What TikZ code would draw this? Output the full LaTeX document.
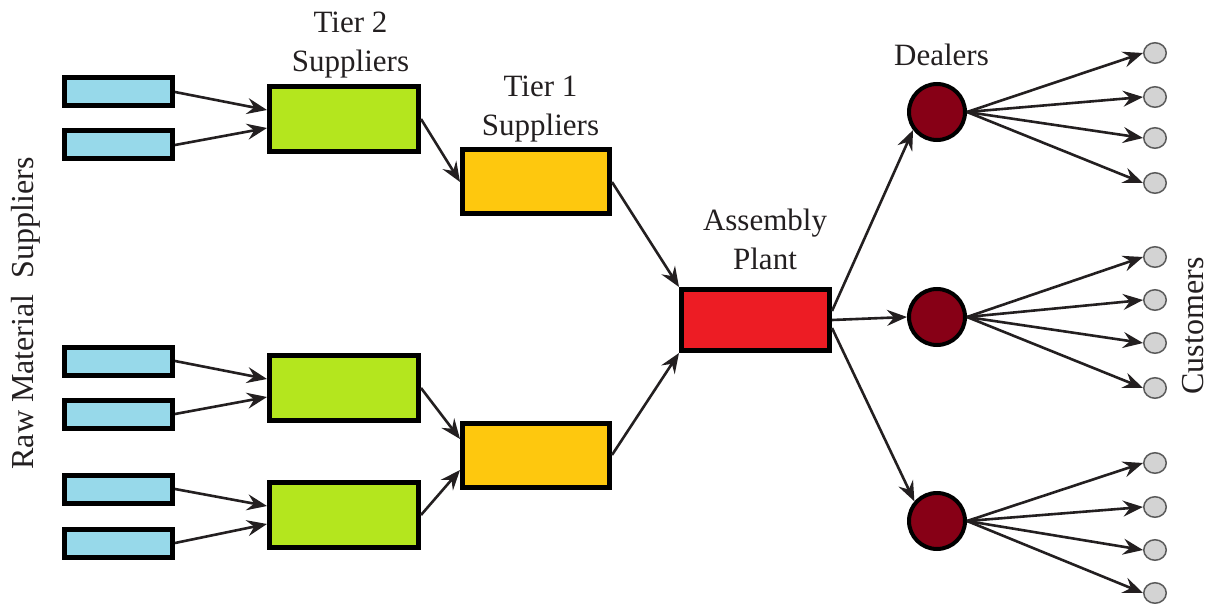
\documentclass[tikz,border=0pt]{standalone}
\usepackage{fontspec}
\newfontfamily\timesfont{Liberation Serif}
\usetikzlibrary{arrows.meta,calc,shapes.geometric}
\definecolor{rawblue}{HTML}{97D9EA}
\definecolor{tiertwo}{HTML}{B4E61E}
\definecolor{tierone}{HTML}{FEC80E}
\definecolor{plantred}{HTML}{ED1C24}
\definecolor{dealerred}{HTML}{870016}
\definecolor{custgray}{HTML}{D3D3D3}
\definecolor{custline}{HTML}{5A5A5A}
\definecolor{ink}{HTML}{231F20}
\begin{document}
\begin{tikzpicture}[x=1pt,y=-1pt,
  box/.style={draw=black,line width=5pt,inner sep=0pt},
  rawbox/.style={box,fill=rawblue,minimum width=108pt,minimum height=28pt},
  twobox/.style={box,fill=tiertwo,minimum width=149pt,minimum height=65pt},
  onebox/.style={box,fill=tierone,minimum width=147pt,minimum height=64pt},
  plantbox/.style={box,fill=plantred,minimum width=148pt,minimum height=61pt},
  dealer/.style={circle,draw=black,line width=4pt,fill=dealerred,minimum size=56pt,inner sep=0pt},
  cust/.style={ellipse,draw=custline,line width=1.5pt,fill=custgray,minimum width=22.5pt,minimum height=20.5pt,inner sep=0pt},
  flow/.style={draw=ink,line width=2.6pt,-{Stealth[length=20pt,width=16pt,inset=7pt]}},
  lbl/.style={text=ink,font=\timesfont\fontsize{31}{39}\selectfont,inner sep=0pt,align=center},
  sidelbl/.style={text=ink,font=\timesfont\fontsize{32}{39}\selectfont,inner sep=0pt,rotate=90,anchor=base}
]
\useasboundingbox (0,0) rectangle (1208,604);
\fill[white] (0,0) rectangle (1208,604);

% raw material suppliers
\node[rawbox] (r1) at (118.5,92) {};
\node[rawbox] (r2) at (118.5,145) {};
\node[rawbox] (r3) at (118.5,361) {};
\node[rawbox] (r4) at (118.5,414) {};
\node[rawbox] (r5) at (118.5,489) {};
\node[rawbox] (r6) at (118.5,543) {};

% tier 2
\node[twobox] (g1) at (344,119) {};
\node[twobox] (g2) at (344,388) {};
\node[twobox] (g3) at (344,515) {};

% tier 1
\node[onebox] (t1) at (536,182) {};
\node[onebox] (t2) at (536,455) {};

% assembly plant
\node[plantbox] (asm) at (755.5,320) {};

% dealers
\node[dealer] (d1) at (937,112) {};
\node[dealer] (d2) at (937,317) {};
\node[dealer] (d3) at (937,521) {};

% customers
\foreach \y [count=\k] in {53,97,138,183} \node[cust] (ca\k) at (1155,\y) {};
\foreach \y [count=\k] in {257,300,343,388} \node[cust] (cb\k) at (1155,\y) {};
\foreach \y [count=\k] in {463,507,550,593} \node[cust] (cc\k) at (1155,\y) {};

% labels
\node[lbl,anchor=north] (lt2) at (350.5,12) {Tier 2\\Suppliers};
\node[lbl,anchor=north] (lt1) at (540.5,75.5) {Tier 1\\Suppliers};
\node[lbl,anchor=north] (lap) at (765,208.8) {Assembly\\Plant};
\node[lbl,anchor=base] (ldl) at (941.5,65.7) {Dealers};
\node[sidelbl] (lraw) at (33,313.5) {Raw Material\ \ Suppliers};
\node[sidelbl] (lcust) at (1203,326) {Customers};

% raw -> tier 2
\draw[flow] (r1.east) -- ($(g1.west)+(0,-9)$);
\draw[flow] (r2.east) -- ($(g1.west)+(0,9)$);
\draw[flow] (r3.east) -- ($(g2.west)+(0,-9)$);
\draw[flow] (r4.east) -- ($(g2.west)+(0,9)$);
\draw[flow] (r5.east) -- ($(g3.west)+(0,-9)$);
\draw[flow] (r6.east) -- ($(g3.west)+(0,9)$);

% tier 2 -> tier 1
\draw[flow] (g1.east) -- (t1.west);
\draw[flow] (g2.east) -- ($(t2.west)+(0,-16)$);
\draw[flow] (g3.east) -- ($(t2.west)+(0,15)$);

% tier 1 -> assembly
\draw[flow] (t1.east) -- (asm.north west);
\draw[flow] (t2.east) -- (asm.south west);

% assembly -> dealers
\draw[flow] ($(asm.east)+(0,-9)$) -- (d1.217);
\draw[flow] (asm.east) -- (d2.west);
\draw[flow] ($(asm.east)+(0,8)$) -- (d3.139);

% dealers -> customers
\foreach \k in {1,2,3,4} {
  \draw[flow] (d1.east) -- (ca\k.west);
  \draw[flow] (d2.east) -- (cb\k.west);
  \draw[flow] (d3.east) -- (cc\k.west);
}
\end{tikzpicture}
\end{document}
